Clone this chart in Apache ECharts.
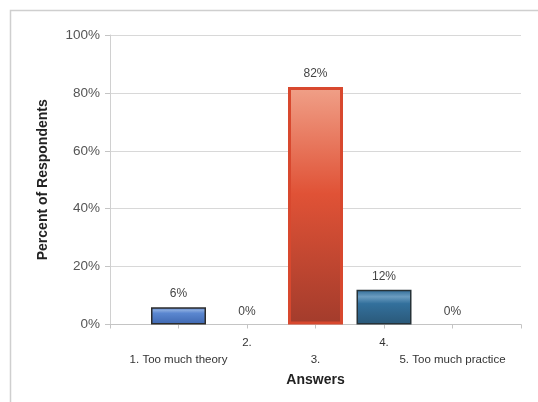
<!DOCTYPE html>
<html>
<head>
<meta charset="utf-8">
<script src="https://cdn.jsdelivr.net/npm/echarts@6/dist/echarts.min.js"></script>
<style>
  html, body { margin: 0; padding: 0; background: #fff; }
  #chart { width: 538px; height: 402px; }
</style>
</head>
<body>
<div id="chart"></div>
<script>
// Survey answers and the share of respondents for each
const categories = ['1. Too much theory', '2.', '3.', '4.', '5. Too much practice'];
const percents = [6, 0, 82, 12, 0];
const yTicks = [0, 20, 40, 60, 80, 100];

// Per-bar fills (vertical gradients with a light sheen near the top)
const blueFill = new echarts.graphic.LinearGradient(0, 0, 0, 1, [
  { offset: 0, color: '#4a74bf' },
  { offset: 0.18, color: '#86a8de' },
  { offset: 0.35, color: '#5b87d0' },
  { offset: 1, color: '#3e67b0' }
]);
const redFill = new echarts.graphic.LinearGradient(0, 0, 0, 1, [
  { offset: 0, color: '#f0a088' },
  { offset: 0.45, color: '#e05236' },
  { offset: 1, color: '#a33c2c' }
]);
const tealFill = new echarts.graphic.LinearGradient(0, 0, 0, 1, [
  { offset: 0, color: '#2f6a96' },
  { offset: 0.2, color: '#6b9cc0' },
  { offset: 0.4, color: '#33709c' },
  { offset: 1, color: '#2a5878' }
]);
const fills = [blueFill, blueFill, redFill, tealFill, tealFill];
const borders = ['#2c2c2c', '#2c2c2c', '#d8482e', '#263238', '#263238'];
const borderWidths = [1.5, 1.5, 3, 1.5, 1.5];

const font = 'Liberation Sans, Arial, sans-serif';

const chart = echarts.init(document.getElementById('chart'), null, { renderer: 'canvas' });

chart.setOption({
  animation: false,
  backgroundColor: '#fff',
  graphic: [{
    type: 'rect',
    left: 8, top: 8,
    shape: { width: 620, height: 500 },
    style: { fill: 'none', stroke: '#cfcfcf', lineWidth: 1.5 },
    silent: true,
    z: -1
  }],
  grid: { left: 110, right: 17, top: 35, bottom: 77.5 },
  xAxis: {
    type: 'value',
    min: 0,
    max: categories.length + 1,
    interval: 1,
    splitLine: { show: false },
    axisLine: { show: true, lineStyle: { color: '#c4c4c4', width: 1 } },
    axisTick: { show: true, length: 4, lineStyle: { color: '#c4c4c4' } },
    axisLabel: {
      margin: 10,
      fontFamily: font,
      fontSize: 11.5,
      color: '#333',
      lineHeight: 17,
      showMinLabel: true,
      showMaxLabel: true,
      formatter: function (v) {
        const i = Math.round(v) - 1;
        if (i < 0 || i >= categories.length) return '';
        // stagger the labels over two rows
        return i % 2 === 1 ? categories[i] : '\n' + categories[i];
      }
    },
    name: 'Answers',
    nameLocation: 'middle',
    nameGap: 48,
    nameTextStyle: { fontFamily: font, fontSize: 14, fontWeight: 'bold', color: '#222', verticalAlign: 'top' }
  },
  yAxis: {
    type: 'value',
    min: yTicks[0],
    max: yTicks[yTicks.length - 1],
    interval: 20,
    axisLine: { show: true, lineStyle: { color: '#d0d0d0', width: 1 } },
    axisTick: { show: true, length: 5, lineStyle: { color: '#c4c4c4' } },
    splitLine: { show: true, lineStyle: { color: '#d8d8d8', width: 1.2 } },
    axisLabel: {
      margin: 10,
      fontFamily: font,
      fontSize: 13.5,
      color: '#555',
      formatter: function (v) { return v + '%'; }
    },
    name: 'Percent of Respondents',
    nameLocation: 'middle',
    nameGap: 60,
    nameTextStyle: { fontFamily: font, fontSize: 14, fontWeight: 'bold', color: '#222' }
  },
  series: [{
    type: 'bar',
    barWidth: 55,
    data: percents.map(function (p, i) {
      return {
        value: [i + 1, p],
        itemStyle: { color: fills[i], borderColor: borders[i], borderWidth: p > 0 ? borderWidths[i] : 0 }
      };
    }),
    label: {
      show: true,
      position: 'top',
      distance: 7,
      fontFamily: font,
      fontSize: 12,
      color: '#444',
      formatter: function (p) { return p.value[1] + '%'; }
    }
  }]
});
</script>
</body>
</html>
